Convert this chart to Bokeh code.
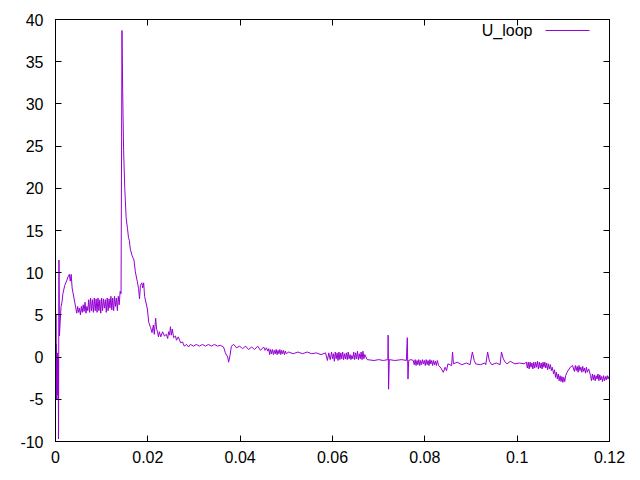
from bokeh.plotting import figure
from bokeh.models import LinearAxis, FixedTicker, CustomJSTickFormatter, Label, Range1d
from bokeh.embed import file_html
from bokeh.resources import INLINE

series_name = "U_loop"

t = [
    0.00000, 0.00005, 0.00010, 0.00015, 0.00020, 0.00030, 0.00040, 0.00050, 0.00060, 0.00065,
    0.00075, 0.00085, 0.00100, 0.00120, 0.00140, 0.00160, 0.00200, 0.00240, 0.00270, 0.00300,
    0.00320, 0.00340, 0.00360, 0.00400, 0.00440, 0.00460, 0.00480, 0.00500, 0.00520, 0.00540,
    0.00560, 0.00580, 0.00600, 0.00620, 0.00640, 0.00660, 0.00680, 0.00700, 0.00720, 0.00740,
    0.00760, 0.00780, 0.00800, 0.00820, 0.00840, 0.00860, 0.00880, 0.00900, 0.00920, 0.00940,
    0.00960, 0.00980, 0.01000, 0.01020, 0.01040, 0.01060, 0.01080, 0.01100, 0.01120, 0.01140,
    0.01160, 0.01180, 0.01200, 0.01220, 0.01240, 0.01260, 0.01280, 0.01300, 0.01320, 0.01340,
    0.01360, 0.01380, 0.01400, 0.01420, 0.01440, 0.01455, 0.01475, 0.01500, 0.01530, 0.01560,
    0.01580, 0.01600, 0.01620, 0.01660, 0.01700, 0.01730, 0.01770, 0.01800, 0.01820, 0.01840,
    0.01870, 0.01890, 0.01910, 0.01930, 0.01990, 0.02020, 0.02060, 0.02090, 0.02120, 0.02140,
    0.02170, 0.02190, 0.02210, 0.02230, 0.02250, 0.02280, 0.02320, 0.02360, 0.02400, 0.02430,
    0.02450, 0.02470, 0.02490, 0.02510, 0.02530, 0.02560, 0.02600, 0.02620, 0.02660, 0.02710,
    0.02750, 0.02790, 0.02840, 0.02880, 0.02920, 0.02990, 0.03050, 0.03120, 0.03180, 0.03250,
    0.03310, 0.03380, 0.03440, 0.03510, 0.03570, 0.03640, 0.03680, 0.03730, 0.03750, 0.03780,
    0.03810, 0.03860, 0.03920, 0.03990, 0.04050, 0.04120, 0.04180, 0.04250, 0.04310, 0.04380,
    0.04440, 0.04510, 0.04540, 0.04570, 0.04600, 0.04620, 0.04640, 0.04660, 0.04680, 0.04700,
    0.04720, 0.04740, 0.04760, 0.04780, 0.04800, 0.04820, 0.04840, 0.04860, 0.04880, 0.04900,
    0.04920, 0.04940, 0.04960, 0.04980, 0.05000, 0.05050, 0.05150, 0.05250, 0.05350, 0.05450,
    0.05550, 0.05650, 0.05750, 0.05850, 0.05890, 0.05920, 0.05950, 0.05980, 0.06000, 0.06020,
    0.06040, 0.06060, 0.06080, 0.06100, 0.06120, 0.06140, 0.06160, 0.06180, 0.06200, 0.06220,
    0.06240, 0.06260, 0.06280, 0.06300, 0.06320, 0.06340, 0.06360, 0.06380, 0.06400, 0.06420,
    0.06440, 0.06460, 0.06480, 0.06500, 0.06520, 0.06540, 0.06560, 0.06580, 0.06600, 0.06620,
    0.06640, 0.06660, 0.06680, 0.06700, 0.06750, 0.06900, 0.07000, 0.07100, 0.07200, 0.07205,
    0.07215, 0.07230, 0.07350, 0.07500, 0.07600, 0.07620, 0.07635, 0.07650, 0.07700, 0.07750,
    0.07770, 0.07790, 0.07810, 0.07830, 0.07850, 0.07870, 0.07890, 0.07910, 0.07930, 0.07950,
    0.07970, 0.07990, 0.08010, 0.08030, 0.08050, 0.08070, 0.08090, 0.08110, 0.08130, 0.08150,
    0.08170, 0.08190, 0.08210, 0.08230, 0.08250, 0.08270, 0.08300, 0.08350, 0.08400, 0.08440,
    0.08470, 0.08500, 0.08580, 0.08600, 0.08620, 0.08700, 0.08800, 0.08900, 0.08980, 0.09030,
    0.09070, 0.09100, 0.09200, 0.09300, 0.09320, 0.09360, 0.09400, 0.09450, 0.09550, 0.09630,
    0.09660, 0.09700, 0.09740, 0.09780, 0.09850, 0.09950, 0.10050, 0.10150, 0.10200, 0.10220,
    0.10240, 0.10260, 0.10280, 0.10300, 0.10320, 0.10340, 0.10360, 0.10380, 0.10400, 0.10420,
    0.10440, 0.10460, 0.10480, 0.10500, 0.10520, 0.10540, 0.10560, 0.10580, 0.10600, 0.10620,
    0.10640, 0.10660, 0.10680, 0.10700, 0.10720, 0.10740, 0.10760, 0.10790, 0.10810, 0.10830,
    0.10850, 0.10870, 0.10890, 0.10910, 0.10930, 0.10950, 0.10970, 0.10990, 0.11010, 0.11030,
    0.11050, 0.11080, 0.11150, 0.11200, 0.11240, 0.11260, 0.11280, 0.11300, 0.11320, 0.11340,
    0.11360, 0.11380, 0.11400, 0.11420, 0.11440, 0.11460, 0.11480, 0.11500, 0.11520, 0.11550,
    0.11590, 0.11610, 0.11630, 0.11650, 0.11670, 0.11690, 0.11710, 0.11730, 0.11750, 0.11770,
    0.11790, 0.11810, 0.11830, 0.11850, 0.11870, 0.11890, 0.11910, 0.11930, 0.11950, 0.11970,
    0.11980,
]

u_loop = [
    8.1, -5.0, 5.0, -5.0, 1.5, -5.0, 0.5, -4.5, 0.0, -9.7,
    11.5, 2.5, 4.0, 6.0, 6.5, 7.5, 8.5, 9.0, 9.5, 9.8,
    9.0, 9.8, 8.2, 7.0, 5.8, 5.2, 6.0, 5.3, 5.8, 5.0,
    6.0, 5.3, 6.2, 5.4, 6.5, 5.2, 6.0, 5.5, 6.8, 5.3,
    7.0, 5.5, 6.8, 5.3, 7.0, 5.5, 6.9, 5.3, 7.0, 5.5,
    6.8, 5.2, 7.0, 5.5, 6.9, 5.8, 6.8, 5.3, 7.0, 5.5,
    6.9, 5.8, 7.2, 5.6, 7.0, 5.5, 7.2, 6.0, 7.0, 5.5,
    7.2, 6.2, 7.8, 7.5, 38.7, 31.5, 24.5, 20.0, 16.5, 15.2,
    14.2, 13.8, 12.8, 12.0, 11.5, 10.1, 9.0, 8.1, 6.9, 8.5,
    8.8, 8.2, 8.8, 7.2, 5.7, 4.1, 3.5, 2.9, 3.8, 2.7,
    4.6, 3.3, 3.0, 2.4, 3.0, 2.4, 3.0, 2.5, 2.7, 2.2,
    3.0, 2.6, 3.6, 2.6, 3.3, 2.3, 2.5, 2.0, 2.4, 1.7,
    1.8, 1.3, 1.5, 1.2, 1.5, 1.3, 1.5, 1.3, 1.5, 1.3,
    1.5, 1.3, 1.5, 1.3, 1.4, 1.2, 0.5, 0.0, -0.6, 0.2,
    1.3, 1.5, 1.1, 1.3, 1.0, 1.3, 0.9, 1.2, 0.9, 1.3,
    0.8, 1.2, 0.8, 1.1, 0.7, 1.0, 0.3, 0.9, 0.4, 0.9,
    0.3, 0.8, 0.4, 0.9, 0.3, 0.8, 0.4, 0.9, 0.3, 0.8,
    0.4, 0.8, 0.3, 0.7, 0.4, 0.6, 0.4, 0.6, 0.4, 0.6,
    0.4, 0.5, 0.3, 0.5, -0.4, 0.5, -0.3, 0.6, -0.2, 0.4,
    -0.5, 0.6, -0.2, 0.5, -0.4, 0.6, -0.3, 0.5, -0.2, 0.6,
    -0.3, 0.4, -0.2, 0.5, -0.3, 0.6, -0.2, 0.3, -0.3, 0.2,
    -0.2, 0.6, -0.3, 0.5, -0.2, 0.7, -0.3, 0.4, -0.2, 0.6,
    -0.3, 0.7, -0.2, 0.3, -0.3, -0.4, -0.3, -0.4, -0.3, 2.6,
    -3.8, -0.3, -0.4, -0.3, -0.4, 2.3, -2.6, -0.4, -0.3, -0.4,
    -0.9, -0.3, -1.0, -0.4, -0.9, -0.3, -1.0, -0.4, -0.9, -0.3,
    -0.8, -0.4, -1.0, -0.3, -0.9, -0.4, -1.0, -0.3, -0.8, -0.4,
    -1.0, -0.4, -0.9, -0.5, -1.0, -0.4, -1.0, -1.3, -1.8, -1.2,
    -1.6, -0.8, -1.0, 0.6, -0.8, -0.6, -0.9, -0.7, -0.9, 0.6,
    -0.4, -0.8, -0.9, -0.7, -0.9, 0.6, -0.5, -0.9, -0.7, -0.9,
    0.6, -0.2, -0.6, -0.8, -0.5, -0.8, -0.7, -0.8, -0.6, -1.3,
    -0.6, -1.4, -0.6, -1.2, -0.7, -1.4, -0.6, -1.3, -0.6, -1.2,
    -0.5, -1.4, -0.6, -1.3, -0.7, -1.4, -0.6, -1.2, -0.6, -1.3,
    -0.7, -1.5, -0.8, -1.4, -0.9, -1.6, -1.2, -2.0, -1.5, -2.4,
    -1.8, -2.6, -2.0, -2.8, -2.2, -2.9, -2.3, -3.0, -2.4, -2.9,
    -2.2, -1.8, -1.2, -1.0, -1.7, -1.0, -1.6, -1.1, -1.8, -1.0,
    -1.6, -1.2, -1.8, -1.1, -1.7, -1.3, -1.9, -1.2, -1.8, -1.4,
    -2.2, -2.8, -2.0, -2.7, -2.1, -2.8, -2.2, -2.6, -2.0, -2.8,
    -2.1, -2.7, -2.3, -2.9, -2.2, -2.8, -2.3, -2.7, -2.2, -2.6,
    -2.3,
]

x_ticks = [0, 0.02, 0.04, 0.06, 0.08, 0.1, 0.12]
y_ticks = [-10, -5, 0, 5, 10, 15, 20, 25, 30, 35, 40]

X_MIN, X_MAX = 0, 0.12
Y_MIN, Y_MAX = -10, 40
LINE_COLOR = "#9400D3"
FONT = "Liberation Sans"
FSIZE = "16px"

p = figure(width=640, height=480, output_backend="svg", toolbar_location=None,
           x_range=Range1d(X_MIN, X_MAX), y_range=Range1d(Y_MIN, Y_MAX),
           min_border_left=55, min_border_right=31, min_border_top=19, min_border_bottom=39,
           background_fill_color="white", border_fill_color="white")
p.grid.visible = False
p.outline_line_color = "black"
p.outline_line_width = 1
p.outline_line_alpha = 1

fmt = CustomJSTickFormatter(code="return String(parseFloat(tick.toFixed(4)));")
blank = CustomJSTickFormatter(code="return '';")

def style(ax, standoff=8):
    ax.minor_tick_line_color = None
    ax.major_tick_in = 6
    ax.major_tick_out = 0
    ax.axis_line_color = "black"
    ax.major_tick_line_color = "black"
    ax.major_label_text_font = FONT
    ax.major_label_text_font_size = FSIZE
    ax.major_label_text_color = "black"
    ax.major_label_standoff = standoff

p.xaxis.ticker = FixedTicker(ticks=x_ticks)
p.xaxis.formatter = fmt
p.yaxis.ticker = FixedTicker(ticks=y_ticks)
p.yaxis.formatter = fmt
style(p.xaxis[0], 9)
style(p.yaxis[0], 12)

top = LinearAxis(ticker=FixedTicker(ticks=x_ticks), formatter=blank)
right = LinearAxis(ticker=FixedTicker(ticks=y_ticks), formatter=blank)
style(top, 0)
style(right, 0)
p.add_layout(top, "above")
p.add_layout(right, "right")

p.line(t, u_loop, line_color=LINE_COLOR, line_width=1)

# key (gnuplot-style: label first, then sample line), placed by fractions of the ranges
ky = Y_MAX - 0.026 * (Y_MAX - Y_MIN)
kx_text = X_MIN + 0.861 * (X_MAX - X_MIN)
kx0 = X_MIN + 0.8845 * (X_MAX - X_MIN)
kx1 = X_MIN + 0.964 * (X_MAX - X_MIN)
p.add_layout(Label(x=kx_text, y=ky, text=series_name, text_align="right",
                   text_baseline="middle", text_font=FONT, text_font_size=FSIZE,
                   text_color="black"))
p.line([kx0, kx1], [ky, ky], line_color=LINE_COLOR, line_width=1)

open("out.html", "w").write(file_html(p, INLINE))
